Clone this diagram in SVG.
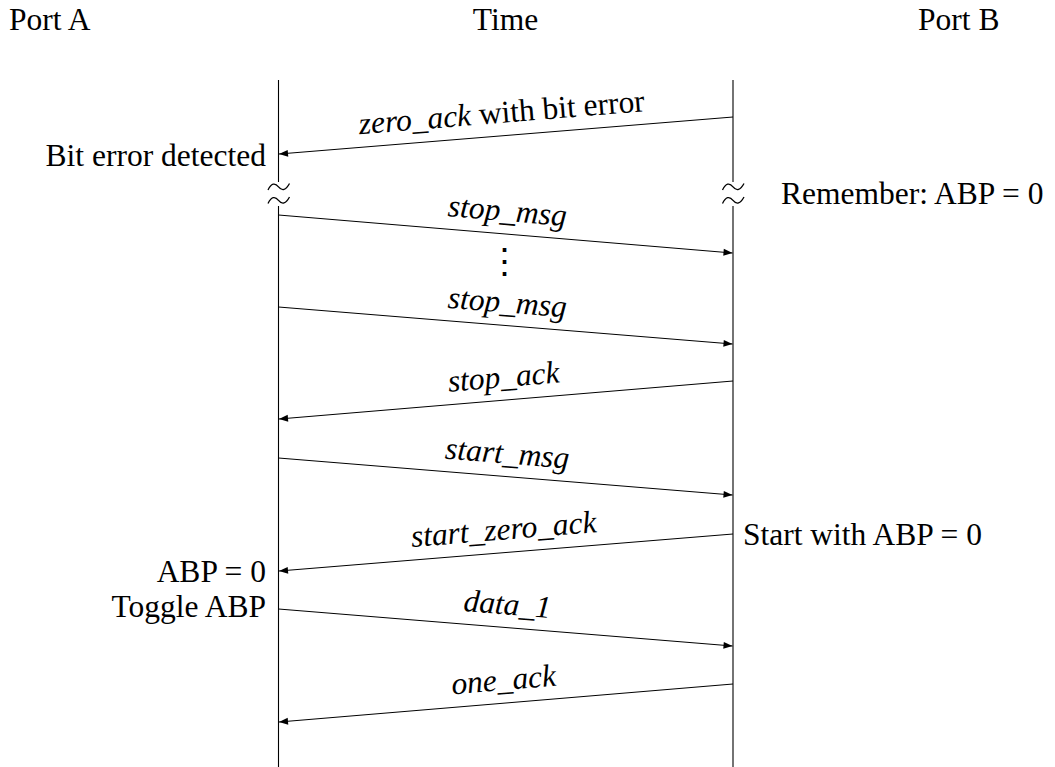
<svg xmlns="http://www.w3.org/2000/svg" width="1055" height="767" viewBox="0 0 1055 767">
<style>
text{font-family:"Liberation Serif","Times New Roman",serif;font-size:31.5px;fill:#000}
.it{font-style:italic}
.rm{font-style:normal}
.lane{stroke:#000;stroke-width:1.1;fill:none}
.msg{stroke:#000;stroke-width:1;fill:none;marker-end:url(#ah)}
.brk{stroke:#000;stroke-width:1.3;fill:none}
.mid{text-anchor:middle}
.end{text-anchor:end}
</style>
<defs>
<marker id="ah" markerUnits="userSpaceOnUse" markerWidth="12" markerHeight="10" viewBox="-10 -5 12 10" refX="0" refY="0" orient="auto">
<path d="M0,0 L-9,-3.4 L-9,3.4 Z" fill="#000"/>
</marker>
</defs>

<g id="headers">
<text x="9" y="29.5">Port A</text>
<text x="505.5" y="29.5" class="mid">Time</text>
<text x="918" y="29.5">Port B</text>
</g>

<g id="portA">
<line class="lane" x1="278.5" y1="80" x2="278.5" y2="182"/>
<line class="lane" x1="278.5" y1="206" x2="278.5" y2="767"/>
<path class="brk" d="M268,190 Q273,180 278.5,186.8 T289.5,183.5"/>
<path class="brk" d="M268,203.5 Q273,193.5 278.5,200.3 T289.5,197"/>
</g>

<g id="portB">
<line class="lane" x1="733" y1="80" x2="733" y2="182"/>
<line class="lane" x1="733" y1="206" x2="733" y2="767"/>
<path class="brk" d="M722.5,190 Q727.5,180 733,186.8 T744,183.5"/>
<path class="brk" d="M722.5,203.5 Q727.5,193.5 733,200.3 T744,197"/>
</g>

<g id="connectors">
<line class="msg" x1="733" y1="117" x2="279" y2="154"/>
<line class="msg" x1="278.5" y1="215" x2="732.5" y2="253"/>
<line class="msg" x1="278.5" y1="307" x2="732.5" y2="344"/>
<line class="msg" x1="733" y1="381" x2="279" y2="419"/>
<line class="msg" x1="278.5" y1="458" x2="732.5" y2="495"/>
<line class="msg" x1="733" y1="534" x2="279" y2="571"/>
<line class="msg" x1="278.5" y1="609" x2="732.5" y2="646"/>
<line class="msg" x1="733" y1="684" x2="279" y2="722"/>
</g>

<g id="msg-labels">
<g transform="translate(505.5,135.5) rotate(-4.65)"><text x="-2" y="-13" class="mid"><tspan class="it">zero_ack</tspan><tspan class="rm"> with bit error</tspan></text></g>
<g transform="translate(505.5,234) rotate(4.77)"><text y="-13" class="mid it">stop_msg</text></g>
<text x="504.5" y="273" class="mid" style="font-family:'DejaVu Serif',serif;font-size:35px">⋮</text>
<g transform="translate(505.5,325.5) rotate(4.65)"><text y="-13" class="mid it">stop_msg</text></g>
<g transform="translate(505.5,400) rotate(-4.77)"><text y="-13" class="mid it">stop_ack</text></g>
<g transform="translate(505.5,476.5) rotate(4.65)"><text y="-13" class="mid it">start_msg</text></g>
<g transform="translate(505.5,552.5) rotate(-4.65)"><text y="-13" class="mid it">start_zero_ack</text></g>
<g transform="translate(505.5,627.5) rotate(4.65)"><text y="-13" class="mid it">data_1</text></g>
<g transform="translate(505.5,703) rotate(-4.77)"><text y="-13" class="mid it">one_ack</text></g>
</g>

<g id="notes">
<text x="266" y="165.5" class="end">Bit error detected</text>
<text x="781" y="204">Remember: ABP = 0</text>
<text x="743" y="545">Start with ABP = 0</text>
<text x="266" y="582" class="end">ABP = 0</text>
<text x="266" y="616.5" class="end">Toggle ABP</text>
</g>
</svg>
